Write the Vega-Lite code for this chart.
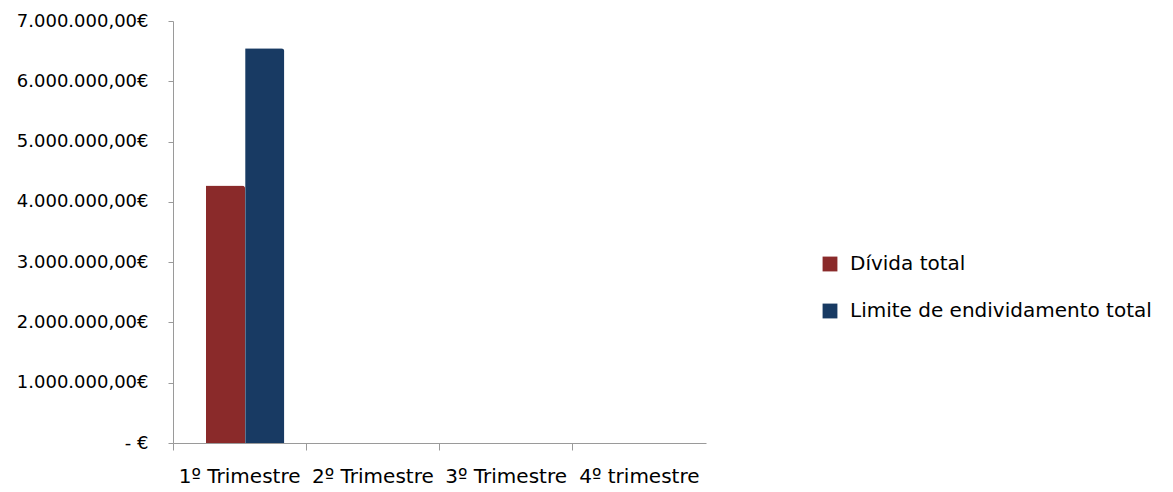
{
  "$schema": "https://vega.github.io/schema/vega-lite/v6.json",
  "autosize": {"type": "none"},
  "width": 533,
  "height": 422,
  "padding": {"left": 173, "top": 21, "right": 467, "bottom": 49},
  "background": "white",
  "data": {
    "values": [
      {"trimestre": "1º Trimestre", "serie": "Dívida total", "valor": 4270000},
      {"trimestre": "1º Trimestre", "serie": "Limite de endividamento total", "valor": 6550000},
      {"trimestre": "2º Trimestre", "serie": "Dívida total", "valor": 0},
      {"trimestre": "2º Trimestre", "serie": "Limite de endividamento total", "valor": 0},
      {"trimestre": "3º Trimestre", "serie": "Dívida total", "valor": 0},
      {"trimestre": "3º Trimestre", "serie": "Limite de endividamento total", "valor": 0},
      {"trimestre": "4º trimestre", "serie": "Dívida total", "valor": 0},
      {"trimestre": "4º trimestre", "serie": "Limite de endividamento total", "valor": 0}
    ]
  },
  "mark": {"type": "bar", "cornerRadiusTopRight": 3},
  "encoding": {
    "x": {
      "field": "trimestre",
      "type": "nominal",
      "sort": null,
      "scale": {"paddingInner": 0, "paddingOuter": 0},
      "axis": {
        "title": null,
        "labelAngle": 0,
        "labelFont": "DejaVu Sans",
        "labelFontSize": 20,
        "labelColor": "#000000",
        "labelPadding": 16,
        "labelLimit": 0,
        "labelOverlap": false,
        "tickSize": 7,
        "tickColor": "#9a9a9a",
        "domainColor": "#9a9a9a",
        "ticks": true,
        "bandPosition": 0
      }
    },
    "xOffset": {
      "field": "serie",
      "type": "nominal",
      "scale": {"paddingInner": 0, "paddingOuter": 0.7, "align": 0.6}
    },
    "y": {
      "field": "valor",
      "type": "quantitative",
      "scale": {"domain": [0, 7000000], "nice": false},
      "axis": {
        "title": null,
        "grid": false,
        "values": [0, 1000000, 2000000, 3000000, 4000000, 5000000, 6000000, 7000000],
        "labelExpr": "datum.value == 0 ? '-   €' : replace(replace(replace(format(datum.value, ',.2f'), regexp(',', 'g'), '#'), regexp('\\\\.', 'g'), ','), regexp('#', 'g'), '.') + '€'",
        "labelFont": "DejaVu Sans",
        "labelFontSize": 18,
        "labelColor": "#000000",
        "labelPadding": 20,
        "labelLimit": 0,
        "tickSize": 5,
        "tickColor": "#9a9a9a",
        "domainColor": "#9a9a9a"
      }
    },
    "color": {
      "field": "serie",
      "type": "nominal",
      "scale": {
        "domain": ["Dívida total", "Limite de endividamento total"],
        "range": ["#8a2a2a", "#183a63"]
      },
      "legend": {
        "title": null,
        "orient": "none",
        "legendX": 647,
        "legendY": 233,
        "symbolType": "square",
        "symbolSize": 220,
        "symbolStrokeWidth": 0,
        "labelFont": "DejaVu Sans",
        "labelFontSize": 20,
        "labelColor": "#000000",
        "labelLimit": 0,
        "rowPadding": 27,
        "labelOffset": 10
      }
    }
  },
  "config": {"view": {"stroke": null}}
}
